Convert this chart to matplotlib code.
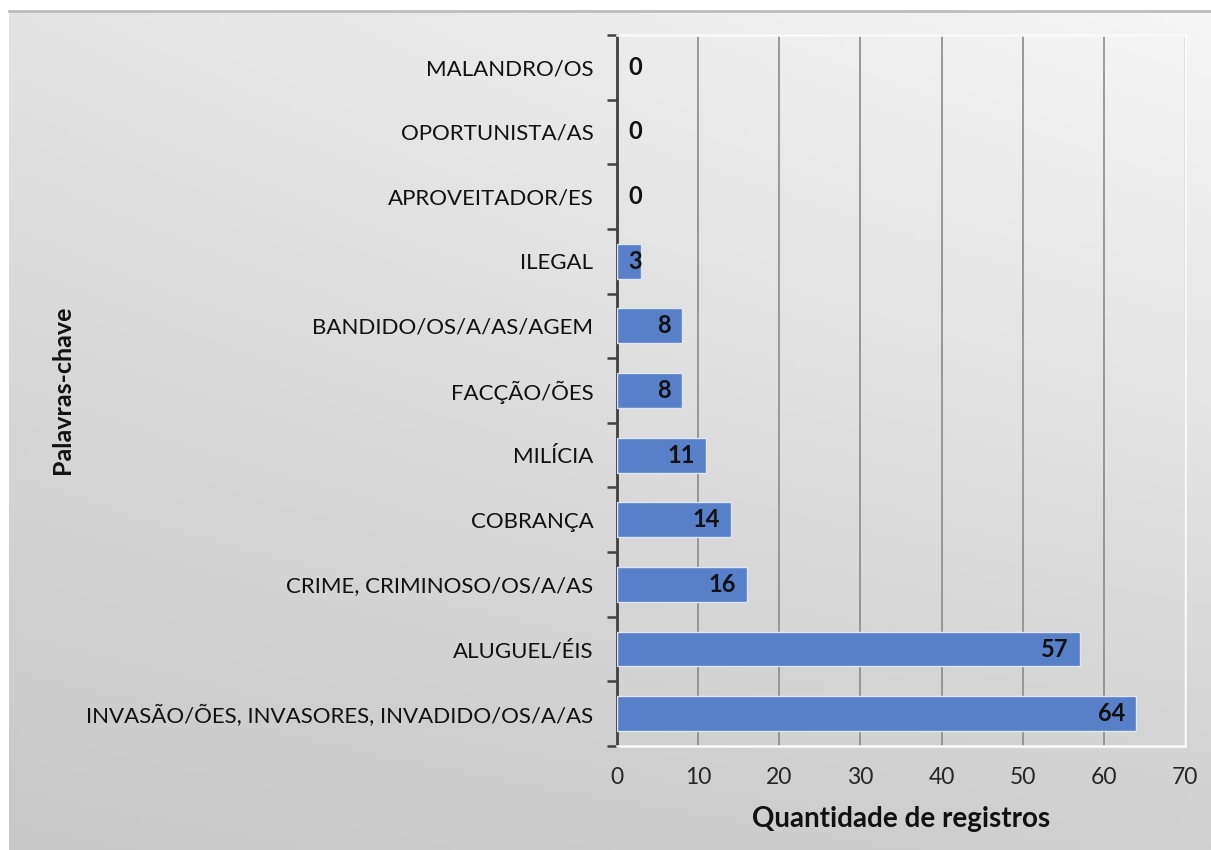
import numpy as np
import matplotlib.pyplot as plt

plt.rcParams['font.family'] = ['Lato', 'DejaVu Sans']

# data (bottom to top, as drawn)
categories = ['INVASÃO/ÕES, INVASORES, INVADIDO/OS/A/AS', 'ALUGUEL/ÉIS',
              'CRIME, CRIMINOSO/OS/A/AS', 'COBRANÇA', 'MILÍCIA', 'FACÇÃO/ÕES',
              'BANDIDO/OS/A/AS/AGEM', 'ILEGAL', 'APROVEITADOR/ES',
              'OPORTUNISTA/AS', 'MALANDRO/OS']
values = [64, 57, 16, 14, 11, 8, 8, 3, 0, 0, 0]
xticks = [0, 10, 20, 30, 40, 50, 60, 70]

W, H = 1211, 850
fig = plt.figure(figsize=(W / 100, H / 100), dpi=100)

# gray gradient panel behind the chart
bg = fig.add_axes([9 / W, 0, 1 - 9 / W, 1 - 11 / H], zorder=0)
gx = np.linspace(0, 1, 200)
gy = np.linspace(0, 1, 200)
X, Y = np.meshgrid(gx, gy)  # Y=0 top row
tl, tr, bl, br = 0.89, 0.965, 0.785, 0.815
shade = (tl * (1 - X) * (1 - Y) + tr * X * (1 - Y) + bl * (1 - X) * Y + br * X * Y)
bg.imshow(np.dstack([shade] * 3), aspect='auto', extent=[0, 1, 0, 1], origin='upper')
bg.set_xticks([])
bg.set_yticks([])
for s in ['left', 'right', 'bottom']:
    bg.spines[s].set_visible(False)
bg.spines['top'].set_color('#bcbcbc')
bg.spines['top'].set_linewidth(2)

ax = fig.add_axes([617 / W, 1 - 746 / H, (1185 - 617) / W, (746 - 35) / H], zorder=1)
ax.patch.set_alpha(0)

y = np.arange(len(categories))
edges = ['#dfe6f3' if v > 0 else 'none' for v in values]
ax.barh(y, values, height=0.54, color='#5880c8', edgecolor=edges, linewidth=1, zorder=3)

for yi, v in zip(y, values):
    if v >= 5:
        ax.annotate(str(v), (v, yi), xytext=(-8, 0), textcoords='offset points',
                    ha='right', va='center', fontsize=17, fontweight='bold', color='#111111', zorder=4)
    else:
        ax.annotate(str(v), (0, yi), xytext=(8, 0), textcoords='offset points',
                    ha='left', va='center', fontsize=17, fontweight='bold', color='#111111', zorder=4)

ax.set_xlim(0, 70)
ax.set_ylim(-0.5, len(categories) - 0.5)
ax.set_xticks(xticks)
ax.set_xticklabels([str(t) for t in xticks], fontsize=16.5, color='#262626')
ax.tick_params(axis='x', length=0, pad=15)
ax.set_yticks(y)
ax.set_yticklabels(categories, fontsize=16, color='#111111')
ax.tick_params(axis='y', length=0, pad=17)
# category boundary ticks on the y axis
ax.set_yticks(np.arange(len(categories) + 1) - 0.5, minor=True)
ax.tick_params(axis='y', which='minor', length=7, width=1.8, color='#404040', direction='out')

ax.grid(axis='x', color='#8a8a8a', linewidth=1.2, zorder=0)
ax.set_axisbelow(True)
ax.spines['left'].set_color('#404040')
ax.spines['left'].set_linewidth(2)
for s in ['top', 'right', 'bottom']:
    ax.spines[s].set_color('#fafafa')
    ax.spines[s].set_linewidth(1.8)

ax.set_xlabel('Quantidade de registros', fontsize=20, fontweight='bold', color='#111111', labelpad=13)
fig.text(62 / W, 1 - 390 / H, 'Palavras-chave', rotation=90, ha='center', va='center',
         fontsize=18, fontweight='bold', color='#111111')

fig.savefig('out.png', dpi=100)
